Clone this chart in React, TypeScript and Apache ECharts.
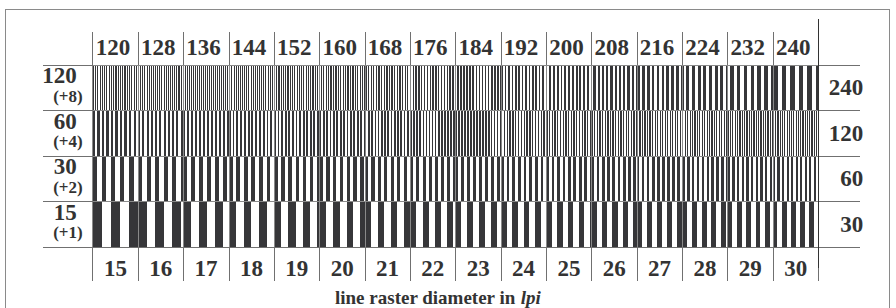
import React, { useEffect, useRef } from "react";
import * as echarts from "echarts";

// ---- data ----
const bottomLpi = [15, 16, 17, 18, 19, 20, 21, 22, 23, 24, 25, 26, 27, 28, 29, 30];
const topLpi = [120, 128, 136, 144, 152, 160, 168, 176, 184, 192, 200, 208, 216, 224, 232, 240];
const rowBase = ["15", "30", "60", "120"]; // bottom to top
const rowSteps = ["(+1)", "(+2)", "(+4)", "(+8)"];
const rowMultipliers = [1, 2, 4, 8];
const rightLabels = ["30", "60", "120", "240"];
const cellWidthInch = 1 / 6; // width of one column in inches
const duty = 0.5; // black share of a line period

// ---- styling ----
const FONT = "Liberation Serif";
const INK = "#363639";
const TXT = "#333333";
const NUM_SIZE = 23;
const GRID_LEFT = 92.7;
const GRID_RIGHT_X = 818.3;
const GRID_TOP = 65;
const GRID_BOTTOM_Y = 247;

const cells: number[][] = [];
rowMultipliers.forEach((m, r) => {
  bottomLpi.forEach((l, c) => {
    cells.push([c, r, l * m]);
  });
});

export default function App() {
  const ref = useRef<HTMLDivElement>(null);
  useEffect(() => {
    if (!ref.current) return;
    const chart = echarts.init(ref.current, null, { renderer: "svg" });
    const tickStyle = { color: "#707070", width: 1 };
    const option: any = {
      animation: false,
      grid: {
        left: GRID_LEFT,
        right: 896 - GRID_RIGHT_X,
        top: GRID_TOP,
        bottom: 308 - GRID_BOTTOM_Y,
      },
      title: {
        text: "line raster diameter in {i|lpi}",
        left: 330,
        top: 283,
        textStyle: {
          fontFamily: FONT,
          fontSize: 19,
          fontWeight: "bold",
          color: TXT,
          rich: {
            i: { fontFamily: FONT, fontSize: 19, fontWeight: "bold", fontStyle: "italic", color: TXT },
          },
        },
      },
      xAxis: [
        {
          type: "category",
          position: "top",
          data: topLpi.map(String),
          z: 5,
          axisLine: { show: false },
          axisTick: { show: true, length: 33, lineStyle: tickStyle },
          splitLine: { show: true, lineStyle: { color: "#8a8a8a", width: 1 } },
          axisLabel: {
            fontFamily: FONT,
            fontSize: NUM_SIZE,
            fontWeight: "bold",
            color: TXT,
            margin: 6,
            align: "center",
            padding: [0, 5, 0, 0],
            interval: 0,
          },
        },
        {
          type: "category",
          position: "bottom",
          data: bottomLpi.map(String),
          z: 5,
          axisLine: { show: true, lineStyle: tickStyle },
          axisTick: { show: true, length: 34, lineStyle: tickStyle },
          splitLine: { show: false },
          axisLabel: {
            fontFamily: FONT,
            fontSize: NUM_SIZE,
            fontWeight: "bold",
            color: TXT,
            margin: 10,
            interval: 0,
          },
        },
      ],
      yAxis: [
        {
          type: "category",
          position: "left",
          data: rowBase,
          z: 5,
          axisLine: { show: false },
          axisTick: { show: true, length: 50, lineStyle: tickStyle },
          splitLine: { show: true, lineStyle: { color: "#8a8a8a", width: 1 } },
          axisLabel: {
            margin: 10,
            align: "right",
            padding: [0, 0, 6, 0],
            formatter: (v: string, i: number) => `{a|${v}}\n{b|${rowSteps[i]}}`,
            rich: {
              a: {
                fontFamily: FONT,
                fontSize: NUM_SIZE,
                fontWeight: "bold",
                color: TXT,
                lineHeight: 23,
                padding: [0, 6, 0, 0],
              },
              b: {
                fontFamily: FONT,
                fontSize: 17,
                fontWeight: "bold",
                color: TXT,
                lineHeight: 18,
              },
            },
          },
        },
        {
          type: "category",
          position: "right",
          data: rightLabels,
          z: 5,
          axisLine: { show: false },
          axisTick: { show: true, length: 42, lineStyle: tickStyle },
          splitLine: { show: false },
          axisLabel: {
            fontFamily: FONT,
            fontSize: NUM_SIZE,
            fontWeight: "bold",
            color: TXT,
            margin: 45,
            align: "right",
            padding: [8, 0, 0, 0],
          },
        },
      ],
      graphic: [
        {
          type: "rect",
          shape: { x: 5.5, y: 9.5, width: 884, height: 320 },
          style: { fill: "none", stroke: "#8a8a8a", lineWidth: 1 },
          z: 0,
        },
        {
          type: "line",
          shape: { x1: GRID_RIGHT_X, y1: 19, x2: GRID_RIGHT_X, y2: 268 },
          style: { stroke: "#333", lineWidth: 1 },
          z: 10,
        },
      ],
      series: [
        {
          type: "custom",
          coordinateSystem: "cartesian2d",
          xAxisIndex: 1,
          yAxisIndex: 0,
          z: 2,
          data: cells,
          renderItem: (params: any, api: any) => {
            const c = api.value(0);
            const r = api.value(1);
            const lpi = api.value(2);
            const center = api.coord([c, r]);
            const size = api.size([1, 1]);
            const w = size[0];
            const h = size[1];
            const x0 = center[0] - w / 2;
            const y0 = center[1] - h / 2;
            const period = w / (lpi * cellWidthInch);
            const children: any[] = [];
            for (let k = 0; k * period < w - 1e-6; k++) {
              const sx = x0 + k * period;
              const sw = Math.min(period * duty, x0 + w - sx);
              children.push({
                type: "rect",
                shape: { x: sx, y: y0, width: sw, height: h },
                style: { fill: INK },
              });
            }
            return { type: "group", children };
          },
        },
      ],
    };
    chart.setOption(option);
    const svg = ref.current.querySelector("svg");
    if (svg) svg.setAttribute("shape-rendering", "crispEdges");
    return () => chart.dispose();
  }, []);
  return (
    <div
      ref={ref}
      style={{ position: "absolute", left: 0, top: 0, width: 896, height: 308, background: "#fff" }}
    />
  );
}
